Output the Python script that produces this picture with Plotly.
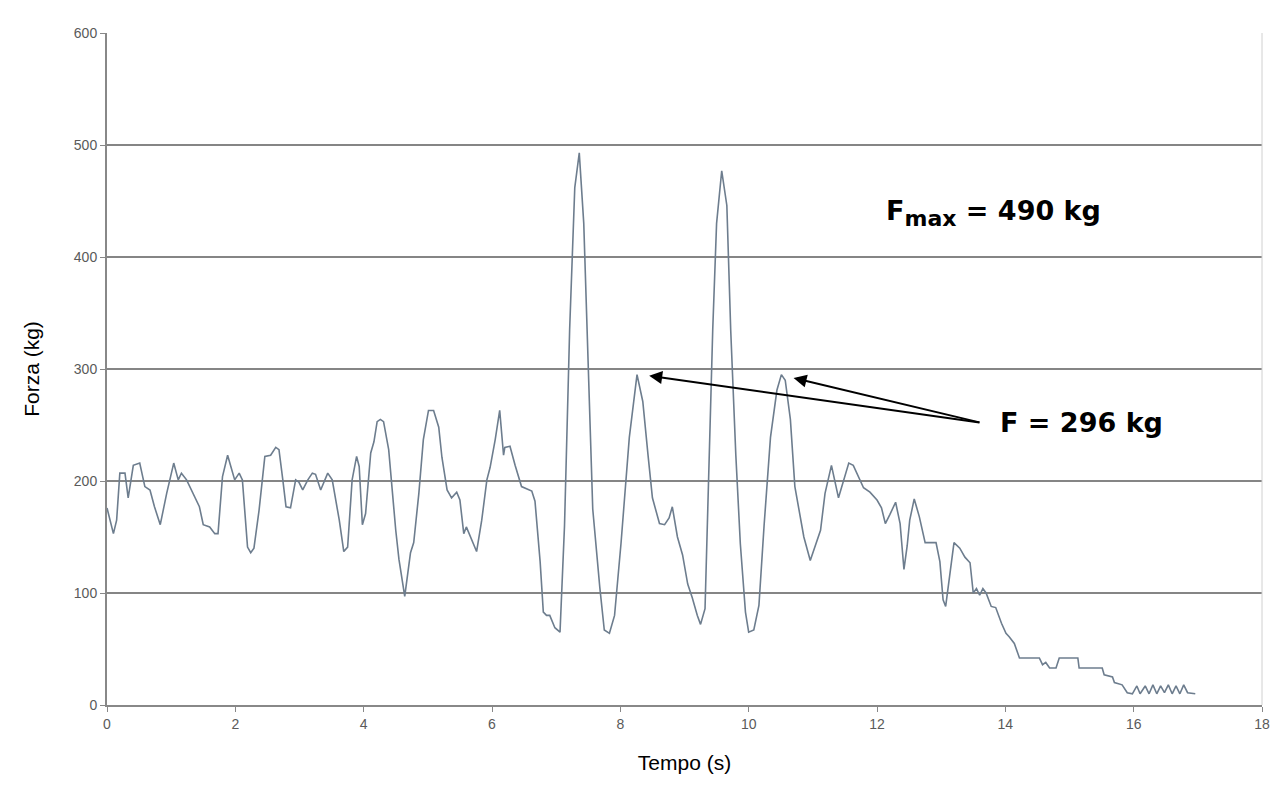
import plotly.graph_objects as go

# Time (s)
tempo = [
    0.00, 0.10, 0.15, 0.20, 0.28, 0.33, 0.41, 0.51, 0.59, 0.67, 0.74, 0.83, 0.93,
    1.04, 1.11, 1.16, 1.24, 1.34, 1.44, 1.50, 1.60, 1.68, 1.73, 1.80, 1.88, 1.93,
    1.99, 2.06, 2.11, 2.19, 2.24, 2.29, 2.37, 2.46, 2.55, 2.63, 2.68, 2.74, 2.79,
    2.86, 2.94, 2.99, 3.05, 3.13, 3.20, 3.25, 3.33, 3.44, 3.51, 3.62, 3.69, 3.75,
    3.82, 3.89, 3.93, 3.98, 4.03, 4.11, 4.16, 4.21, 4.26, 4.31, 4.39, 4.50, 4.55,
    4.64, 4.73, 4.78, 4.86, 4.93, 5.01, 5.09, 5.17, 5.22, 5.30, 5.37, 5.45, 5.50,
    5.56, 5.60, 5.69, 5.76, 5.84, 5.92, 5.97, 6.05, 6.12, 6.18, 6.20, 6.28, 6.36,
    6.46, 6.62, 6.67, 6.75, 6.80, 6.85, 6.90, 6.98, 7.06, 7.13, 7.21, 7.29, 7.36,
    7.43, 7.50, 7.57, 7.68, 7.75, 7.83, 7.91, 8.01, 8.14, 8.26, 8.35, 8.43, 8.50,
    8.61, 8.69, 8.76, 8.81, 8.89, 8.97, 9.05, 9.12, 9.20, 9.25, 9.32, 9.38, 9.44,
    9.50, 9.58, 9.66, 9.72, 9.80, 9.87, 9.95, 10.00, 10.08, 10.16, 10.24, 10.34,
    10.44, 10.51, 10.57, 10.65, 10.72, 10.86, 10.96, 11.06, 11.12, 11.19, 11.29,
    11.40, 11.48, 11.56, 11.63, 11.74, 11.79, 11.89, 12.00, 12.07, 12.13, 12.20,
    12.29, 12.36, 12.42, 12.47, 12.51, 12.58, 12.66, 12.75, 12.92, 12.98, 13.03,
    13.07, 13.12, 13.20, 13.29, 13.37, 13.45, 13.50, 13.55, 13.60, 13.65, 13.70,
    13.78, 13.85, 13.94, 14.01, 14.06, 14.14, 14.22, 14.53, 14.58, 14.63, 14.69,
    14.79, 14.84, 15.13, 15.15, 15.51, 15.54, 15.67, 15.70, 15.82, 15.90, 15.98,
    16.05, 16.10, 16.18, 16.24, 16.30, 16.36, 16.42, 16.48, 16.54, 16.60, 16.66,
    16.72, 16.78, 16.84, 16.96,
]

# Force (kg)
forza = [
    176, 153, 165, 207, 207, 185, 214, 216, 195, 192, 177, 161, 189,
    216, 201, 207, 201, 189, 177, 161, 159, 153, 153, 204, 223, 213,
    201, 207, 201, 141, 136, 140, 174, 222, 223, 230, 228, 201, 177,
    176, 201, 199, 192, 201, 207, 206, 192, 207, 201, 165, 137, 141,
    201, 222, 213, 161, 171, 225, 235, 253, 255, 253, 228, 156, 130,
    97, 136, 145, 189, 237, 263, 263, 248, 221, 192, 185, 190, 183,
    153, 159, 147, 137, 165, 201, 212, 237, 263, 223, 230, 231, 214,
    195, 191, 182, 128, 83, 80, 80, 69, 65, 160, 335, 462, 493,
    430, 303, 175, 105, 67, 64, 80, 144, 239, 295, 271, 224, 185,
    162, 161, 167, 177, 150, 134, 108, 96, 80, 72, 86, 223, 335,
    430, 477, 446, 335, 223, 144, 83, 65, 67, 89, 160, 239,
    281, 295, 290, 255, 195, 150, 129, 147, 156, 189, 214,
    185, 201, 216, 214, 201, 194, 190, 183, 176, 162, 170,
    181, 162, 121, 142, 165, 184, 168, 145, 145, 128, 94,
    88, 110, 145, 140, 132, 127, 100, 104, 98, 104, 100,
    88, 87, 73, 64, 61, 55, 42, 42, 36, 38, 33,
    33, 42, 42, 33, 33, 27, 25, 20, 18, 11, 10,
    17, 10, 17, 10, 18, 10, 17, 11, 18, 10, 17,
    10, 18, 11, 10,
]

x_ticks = [0, 2, 4, 6, 8, 10, 12, 14, 16, 18]
y_ticks = [0, 100, 200, 300, 400, 500, 600]

fmax_label = "F<sub><span style='font-size:22px'>max</span></sub> = 490 kg"
f_label = "F = 296 kg"
fmax_pos = (13.82, 439)
f_pos = (15.18, 252)
arrow_tail = (13.62, 252)
arrow_tips = [(8.45, 294), (10.70, 292)]

fig = go.Figure()
fig.add_trace(go.Scatter(
    x=tempo, y=forza, mode="lines",
    line=dict(color="#6d7d8e", width=1.6),
    showlegend=False, hoverinfo="x+y",
))

ann_font = dict(family="DejaVu Sans", size=27, color="black")
annotations = [
    dict(x=fmax_pos[0], y=fmax_pos[1], xref="x", yref="y", text="<b>" + fmax_label + "</b>",
         showarrow=False, font=ann_font, xanchor="center", yanchor="middle"),
    dict(x=f_pos[0], y=f_pos[1], xref="x", yref="y", text="<b>" + f_label + "</b>",
         showarrow=False, font=ann_font, xanchor="center", yanchor="middle"),
]
for tx, ty in arrow_tips:
    annotations.append(dict(
        x=tx, y=ty, xref="x", yref="y", ax=arrow_tail[0], ay=arrow_tail[1],
        axref="x", ayref="y", text="", showarrow=True, arrowhead=2,
        arrowsize=1.3, arrowwidth=2, arrowcolor="black", standoff=0,
    ))

fig.update_layout(
    width=1274, height=779,
    margin=dict(l=99, r=15, t=25, b=82),
    paper_bgcolor="white", plot_bgcolor="white",
    font=dict(family="Liberation Sans", color="#5a5a5a"),
    annotations=annotations,
)
fig.update_xaxes(
    range=[0, 18], tickvals=x_ticks, ticks="outside", ticklen=5, tickcolor="#888888",
    showgrid=False, showline=True, linecolor="#888888", linewidth=2, mirror=False,
    tickfont=dict(size=14, color="#5a5a5a"),
    title=dict(text="Tempo (s)", font=dict(size=21, color="black"), standoff=25),
    zeroline=False,
)
fig.update_yaxes(
    range=[0, 600], tickvals=y_ticks, ticks="outside", ticklen=5, tickcolor="#888888",
    showgrid=True, gridcolor="#858585", gridwidth=2,
    showline=True, linecolor="#888888", linewidth=2,
    tickfont=dict(size=14, color="#5a5a5a"),
    title=dict(text="Forza (kg)", font=dict(size=21, color="black"), standoff=28),
    zeroline=False,
)
fig.add_shape(type="line", xref="paper", yref="paper", x0=1, x1=1, y0=0, y1=1,
              line=dict(color="#d0d0d0", width=1))

fig.write_html("out.html")
